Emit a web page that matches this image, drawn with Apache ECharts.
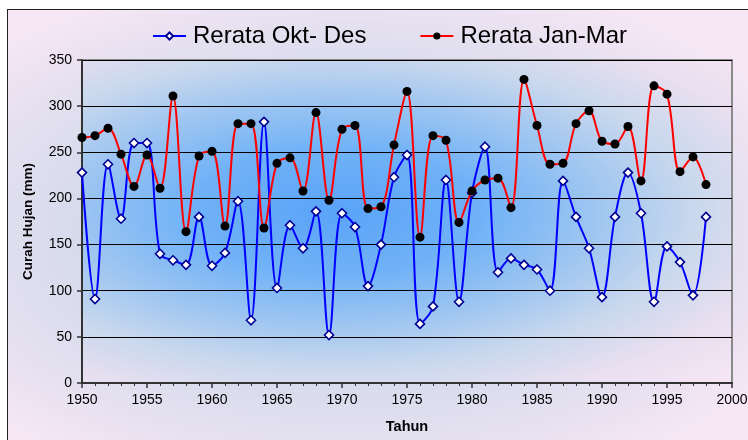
<!DOCTYPE html>
<html>
<head>
<meta charset="utf-8">
<script src="https://cdn.jsdelivr.net/npm/echarts@6/dist/echarts.min.js"></script>
<style>
  html, body { margin: 0; padding: 0; background: #fff; }
  #wrap { position: relative; width: 748px; height: 440px; overflow: hidden; }
  /* outer chart-area box */
  #outer {
    position: absolute; left: 7px; top: 9px; width: 760px; height: 450px;
    border-left: 1px solid #222; border-top: 1px solid #222;
    background: radial-gradient(ellipse at 45% 50%, #c9d4ea 0%, #d2d9eb 40%, #e4e0f0 65%, #f7e7f5 85%);
  }
  /* plot area gradient */
  #plotbg {
    position: absolute; left: 82px; top: 60px; width: 650px; height: 323px;
    background: radial-gradient(ellipse at 39% 47%, #5aa3f8 0%, #70b2f7 26%, #9dc5f1 46%, #c9d8ed 64%, #e8dff0 81%, #f7e6f5 100%);
  }
  #chart { position: absolute; left: 0; top: 0; width: 748px; height: 440px; }
</style>
</head>
<body>
<div id="wrap">
  <div id="outer"></div>
  <div id="plotbg"></div>
  <div id="chart"></div>
</div>
<script>
// ---------------------------------------------------------------------------
// data
// ---------------------------------------------------------------------------
const years = [
  1950, 1951, 1952, 1953, 1954, 1955, 1956, 1957, 1958, 1959,
  1960, 1961, 1962, 1963, 1964, 1965, 1966, 1967, 1968, 1969,
  1970, 1971, 1972, 1973, 1974, 1975, 1976, 1977, 1978, 1979,
  1980, 1981, 1982, 1983, 1984, 1985, 1986, 1987, 1988, 1989,
  1990, 1991, 1992, 1993, 1994, 1995, 1996, 1997, 1998,
];

// Rerata Okt- Des
const oktDes = [
  228, 91, 237, 178, 260, 260, 140, 133, 128, 180,
  127, 141, 197, 68, 283, 103, 171, 146, 186, 52,
  184, 169, 105, 150, 223, 247, 64, 83, 220, 88,
  206, 256, 120, 135, 128, 123, 100, 219, 180, 146,
  93, 180, 228, 184, 88, 148, 131, 95, 180,
];

// Rerata Jan-Mar
const janMar = [
  266, 268, 276, 248, 213, 247, 211, 311, 164, 246,
  251, 170, 281, 281, 168, 238, 244, 208, 293, 198,
  275, 279, 189, 191, 258, 316, 158, 268, 263, 174,
  208, 220, 222, 190, 329, 279, 237, 238, 281, 295,
  262, 259, 278, 219, 322, 313, 229, 245, 215,
];

const FONT = "'Liberation Sans', Arial, sans-serif";

function pairs(vals) {
  return years.map((y, i) => [y, vals[i]]);
}

const chart = echarts.init(document.getElementById("chart"), null, { renderer: "canvas" });

chart.setOption({
  animation: false,
  backgroundColor: "transparent",
  textStyle: { fontFamily: FONT },
  legend: {
    left: 147,
    top: 19,
    itemWidth: 33,
    itemHeight: 9,
    itemGap: 53,
    textStyle: { fontSize: 24, color: "#000", fontFamily: FONT, padding: [0, 0, 0, 2] },
    data: ["Rerata Okt- Des", "Rerata Jan-Mar"],
  },
  grid: {
    left: 82,
    right: 16,
    top: 60,
    bottom: 57,
    outerBoundsMode: "none",
    containLabel: false,
    show: true,
    backgroundColor: "transparent",
    borderColor: "#8a8a8a",
    borderWidth: 2,
  },
  xAxis: {
    type: "value",
    min: 1950,
    max: 2000,
    interval: 5,
    name: "Tahun",
    nameLocation: "middle",
    nameGap: 36,
    nameTextStyle: { fontSize: 14.5, fontWeight: "bold", color: "#000", fontFamily: FONT },
    axisLine: { show: true, onZero: false, lineStyle: { color: "#333", width: 2 } },
    axisTick: { show: true, length: 5, lineStyle: { color: "#333", width: 1.5 } },
    minorTick: { show: true, splitNumber: 5, length: 3, lineStyle: { color: "#333", width: 1 } },
    axisLabel: {
      fontSize: 14, color: "#000", margin: 10, fontFamily: FONT,
      formatter: (v) => String(v),
    },
    splitLine: { show: false },
  },
  yAxis: {
    type: "value",
    min: 0,
    max: 350,
    interval: 50,
    name: "Curah Hujan (mm)",
    nameLocation: "middle",
    nameGap: 47,
    nameTextStyle: { fontSize: 13.5, fontWeight: "bold", color: "#000", fontFamily: FONT },
    axisLine: { show: true, lineStyle: { color: "#333", width: 2 } },
    axisTick: { show: true, length: 5, lineStyle: { color: "#333", width: 1.5 } },
    axisLabel: { fontSize: 14, color: "#000", margin: 10, fontFamily: FONT },
    splitLine: { show: true, lineStyle: { color: "#000", width: 1 } },
  },
  series: [
    {
      name: "Rerata Okt- Des",
      type: "line",
      data: pairs(oktDes),
      smooth: 0.35,
      symbol: "diamond",
      symbolSize: 9,
      lineStyle: { color: "#0000ff", width: 2 },
      itemStyle: { color: "#ffffff", borderColor: "#000090", borderWidth: 1.6 },
      z: 3,
    },
    {
      name: "Rerata Jan-Mar",
      type: "line",
      data: pairs(janMar),
      smooth: 0.35,
      symbol: "circle",
      symbolSize: 9,
      lineStyle: { color: "#ff0000", width: 2 },
      itemStyle: { color: "#000000", borderColor: "#000000", borderWidth: 0 },
      z: 4,
    },
  ],
});
</script>
</body>
</html>
